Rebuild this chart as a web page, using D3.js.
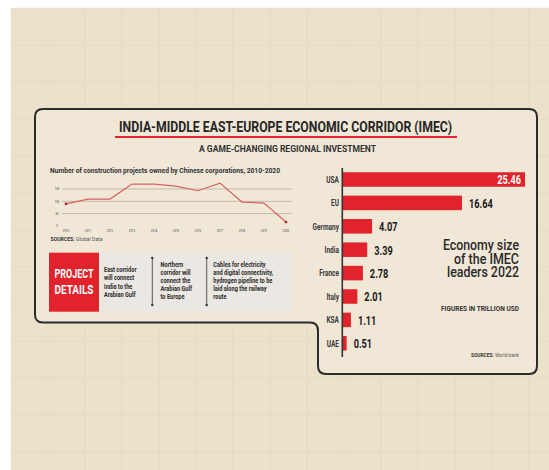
<!DOCTYPE html>
<html>
<head>
<meta charset="utf-8">
<script src="https://cdn.jsdelivr.net/npm/d3@7"></script>
<style>
  body { margin: 0; background: #ffffff; }
  svg { display: block; }
</style>
</head>
<body>
<div id="chart"></div>
<script>
// line chart data
const years = [2010, 2011, 2012, 2013, 2014, 2015, 2016, 2017, 2018, 2019, 2020];
const projects = [90, 109, 109, 170, 170, 162, 143, 174, 97, 93, 16];
const projectTicks = [0, 50, 100, 150];

// bar chart data
const countries = ["USA", "EU", "Germany", "India", "France", "Italy", "KSA", "UAE"];
const gdp = [25.46, 16.64, 4.07, 3.39, 2.78, 2.01, 1.11, 0.51];

// project details text
const detailCols = [
  ["East corridor", "will connect", "India to the", "Arabian Gulf"],
  ["Northern", "corridor will", "connect the", "Arabian Gulf", "to Europe"],
  ["Cables for electricity", "and digital connectivity,", "hydrogen pipeline to be", "laid along the railway", "route"]
];

const W = 549, H = 470;
const font = "Roboto, 'Open Sans', sans-serif";
const red = "#e3232b";
const ink = "#262626";

// no condensed face is installed, so squeeze text horizontally
function squeeze(sel, f) {
  sel.each(function() {
    const w = this.getComputedTextLength();
    d3.select(this).attr("textLength", w * f).attr("lengthAdjust", "spacingAndGlyphs");
  });
  return sel;
}

const svg = d3.select("#chart").append("svg")
  .attr("width", W)
  .attr("height", H);

// paper background
svg.append("rect")
  .attr("x", 11).attr("y", 8)
  .attr("width", W - 11).attr("height", H - 8)
  .attr("fill", "#ece1c9");

// faint paper grid
const bgGrid = svg.append("g").attr("stroke", "#ddd0b4").attr("stroke-width", 0.6).attr("opacity", 0.45);
d3.range(11, W, 37).forEach(x => {
  bgGrid.append("line").attr("x1", x).attr("x2", x).attr("y1", 8).attr("y2", H);
});
d3.range(8, H, 37).forEach(y => {
  bgGrid.append("line").attr("x1", 11).attr("x2", W).attr("y1", y).attr("y2", y);
});

// panel outline with the notch at bottom left
const panel = "M43,109 H529 Q537,109 537,117 V366 Q537,374 529,374 H326 Q318,374 318,366 V330.5 Q318,322.5 310,322.5 H43 Q35,322.5 35,314.5 V117 Q35,109 43,109 Z";
svg.append("path")
  .attr("d", panel)
  .attr("fill", "#f0e7d7")
  .attr("stroke", "#2b2b2b")
  .attr("stroke-width", 2);

// title
svg.append("text")
  .attr("x", 119).attr("y", 131.5)
  .attr("font-family", font)
  .attr("font-size", 14)
  .attr("font-weight", "bold")
  .attr("fill", ink)
  .attr("textLength", 333)
  .attr("lengthAdjust", "spacingAndGlyphs")
  .text("INDIA-MIDDLE EAST-EUROPE ECONOMIC CORRIDOR (IMEC)");

svg.append("line")
  .attr("x1", 115).attr("x2", 457)
  .attr("y1", 137).attr("y2", 137)
  .attr("stroke", red).attr("stroke-width", 1.8);

svg.append("text")
  .attr("x", 199).attr("y", 151.5)
  .attr("font-family", font)
  .attr("font-size", 8.5)
  .attr("font-weight", "bold")
  .attr("fill", "#333")
  .attr("textLength", 177)
  .attr("lengthAdjust", "spacingAndGlyphs")
  .text("A GAME-CHANGING REGIONAL INVESTMENT");

// ---------- line chart ----------
const xLine = d3.scaleLinear().domain([2010, 2020]).range([66, 286]);
const yLine = d3.scaleLinear().domain([0, 150]).range([226, 189]);

svg.append("text")
  .attr("x", 50).attr("y", 173)
  .attr("font-family", font)
  .attr("font-size", 7)
  .attr("font-weight", "bold")
  .attr("fill", "#333")
  .attr("textLength", 230)
  .attr("lengthAdjust", "spacingAndGlyphs")
  .text("Number of construction projects owned by Chinese corporations, 2010-2020");

const lineG = svg.append("g");

lineG.selectAll(".grid")
  .data(projectTicks.filter(d => d > 0))
  .enter().append("line")
  .attr("class", "grid")
  .attr("x1", 62).attr("x2", 292)
  .attr("y1", d => yLine(d)).attr("y2", d => yLine(d))
  .attr("stroke", "#b8ae9e")
  .attr("stroke-width", 0.8);

squeeze(lineG.selectAll(".ytick")
  .data(projectTicks)
  .enter().append("text")
  .attr("class", "ytick")
  .attr("x", 57).attr("y", d => yLine(d) + 1.2)
  .attr("text-anchor", "middle")
  .attr("font-family", font)
  .attr("font-size", 3.6)
  .attr("fill", "#444")
  .text(d => d), 0.75);

squeeze(lineG.selectAll(".xtick")
  .data(years)
  .enter().append("text")
  .attr("class", "xtick")
  .attr("x", d => xLine(d)).attr("y", 232)
  .attr("text-anchor", "middle")
  .attr("font-family", font)
  .attr("font-size", 3.8)
  .attr("fill", "#444")
  .text(d => d), 0.75);

const line = d3.line()
  .x((d, i) => xLine(years[i]))
  .y(d => yLine(d));

lineG.append("path")
  .datum(projects)
  .attr("d", line)
  .attr("fill", "none")
  .attr("stroke", "#d9625c")
  .attr("stroke-width", 1.2);

lineG.selectAll(".endpoint")
  .data([0, projects.length - 1])
  .enter().append("circle")
  .attr("class", "endpoint")
  .attr("cx", i => xLine(years[i]))
  .attr("cy", i => yLine(projects[i]))
  .attr("r", 1.4)
  .attr("fill", "#b0262a");

const src1 = svg.append("text")
  .attr("x", 50.5).attr("y", 241)
  .attr("font-family", font)
  .attr("font-size", 4.8)
  .attr("fill", "#555")
  .attr("textLength", 52)
  .attr("lengthAdjust", "spacingAndGlyphs");
src1.append("tspan").attr("font-weight", "bold").attr("fill", "#333").text("SOURCES: ");
src1.append("tspan").text("Global Data");

// ---------- project details ----------
svg.append("rect")
  .attr("x", 99).attr("y", 252.7)
  .attr("width", 194).attr("height", 59)
  .attr("fill", "#ebe7e2");

svg.append("rect")
  .attr("x", 49).attr("y", 252.7)
  .attr("width", 50).attr("height", 59)
  .attr("fill", red);

["PROJECT", "DETAILS"].forEach((t, i) => {
  svg.append("text")
    .attr("x", 74).attr("y", 278 + i * 16)
    .attr("text-anchor", "middle")
    .attr("font-family", font)
    .attr("font-size", 12.5)
    .attr("font-weight", "bold")
    .attr("fill", "#ffffff")
    .attr("textLength", 39)
    .attr("lengthAdjust", "spacingAndGlyphs")
    .text(t);
});

const colX = [104, 160.5, 213.3];
const colTop = [272.3, 266.7, 266.7];
detailCols.forEach((lines, c) => {
  lines.forEach((l, i) => {
    squeeze(svg.append("text")
      .attr("x", colX[c])
      .attr("y", colTop[c] + i * 8.1)
      .attr("font-family", font)
      .attr("font-size", 7.6)
      .attr("font-weight", "bold")
      .attr("fill", "#2a2a2a")
      .text(l), 0.74);
  });
});

[152.3, 206.7].forEach(x => {
  svg.append("line")
    .attr("x1", x).attr("x2", x)
    .attr("y1", 258).attr("y2", 305)
    .attr("stroke", "#333").attr("stroke-width", 0.8);
  [258, 305].forEach(y => {
    svg.append("circle").attr("cx", x).attr("cy", y).attr("r", 1.2).attr("fill", "#333");
  });
});

// ---------- bar chart ----------
const xBar = d3.scaleLinear().domain([0, d3.max(gdp)]).range([343, 525]);
const yBar = d3.scaleBand()
  .domain(countries)
  .range([167.8, 355])
  .paddingInner(0.38)
  .paddingOuter(0.19);

const barG = svg.append("g");

barG.selectAll(".bar")
  .data(countries)
  .enter().append("rect")
  .attr("class", "bar")
  .attr("x", xBar(0))
  .attr("y", d => yBar(d))
  .attr("width", (d, i) => xBar(gdp[i]) - xBar(0))
  .attr("height", yBar.bandwidth())
  .attr("fill", red);

barG.append("line")
  .attr("x1", 342.3).attr("x2", 342.3)
  .attr("y1", 168).attr("y2", 357)
  .attr("stroke", "#333").attr("stroke-width", 1.6);

squeeze(barG.selectAll(".cat")
  .data(countries)
  .enter().append("text")
  .attr("class", "cat")
  .attr("x", 339)
  .attr("y", d => yBar(d) + yBar.bandwidth() / 2 + 3.2)
  .attr("text-anchor", "end")
  .attr("font-family", font)
  .attr("font-size", 8.8)
  .attr("font-weight", "bold")
  .attr("fill", "#3a3a3a")
  .text(d => d), 0.74);

squeeze(barG.selectAll(".val")
  .data(countries)
  .enter().append("text")
  .attr("class", "val")
  .attr("x", (d, i) => i === 0 ? xBar(gdp[i]) - 4 : xBar(gdp[i]) + 7)
  .attr("y", d => yBar(d) + yBar.bandwidth() / 2 + 4.8)
  .attr("text-anchor", (d, i) => i === 0 ? "end" : "start")
  .attr("font-family", font)
  .attr("font-size", 13.5)
  .attr("font-weight", "bold")
  .attr("fill", (d, i) => i === 0 ? "#ffffff" : "#1a1a1a")
  .text((d, i) => d3.format(".2f")(gdp[i])), 0.68);

// side caption
const caption = [["Economy size", 76], ["of the IMEC", 65], ["leaders 2022", 72]];
caption.forEach((c, i) => {
  svg.append("text")
    .attr("x", 519).attr("y", 250 + i * 13.7)
    .attr("text-anchor", "end")
    .attr("font-family", font)
    .attr("font-size", 14.5)
    .attr("font-weight", 500)
    .attr("fill", "#2a2a2a")
    .attr("textLength", c[1])
    .attr("lengthAdjust", "spacingAndGlyphs")
    .text(c[0]);
});

svg.append("text")
  .attr("x", 519).attr("y", 311)
  .attr("text-anchor", "end")
  .attr("font-family", font)
  .attr("font-size", 6.6)
  .attr("font-weight", "bold")
  .attr("fill", "#333")
  .attr("textLength", 78)
  .attr("lengthAdjust", "spacingAndGlyphs")
  .text("FIGURES IN TRILLION USD");

const src2 = svg.append("text")
  .attr("x", 519).attr("y", 356.7)
  .attr("text-anchor", "end")
  .attr("font-family", font)
  .attr("font-size", 4.8)
  .attr("fill", "#555")
  .attr("textLength", 48)
  .attr("lengthAdjust", "spacingAndGlyphs");
src2.append("tspan").attr("font-weight", "bold").attr("fill", "#333").text("SOURCES: ");
src2.append("tspan").text("World bank");
</script>
</body>
</html>
